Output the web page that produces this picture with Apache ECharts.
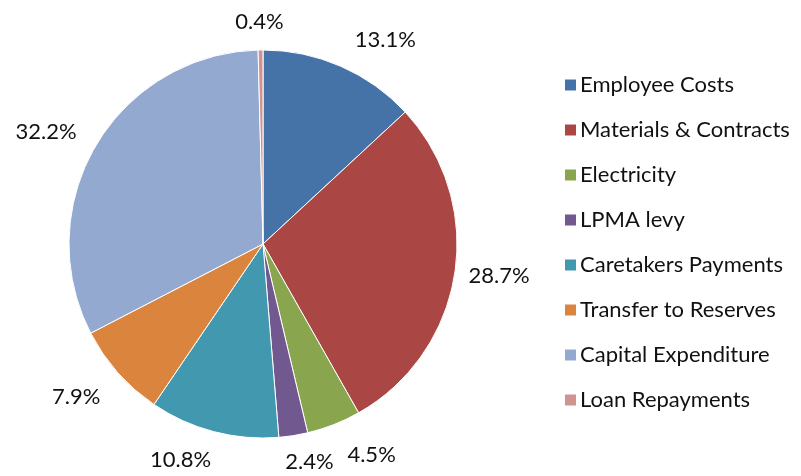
<!DOCTYPE html>
<html style="height: 100%">
<head>
<meta charset="utf-8">
<script src="https://cdn.jsdelivr.net/npm/echarts@6/dist/echarts.min.js"></script>
</head>
<body style="height: 100%; margin: 0; background: #fff">
<div id="container" style="width: 801px; height: 476px"></div>
<script type="text/javascript">
var categories = ['Employee Costs', 'Materials & Contracts', 'Electricity', 'LPMA levy',
                  'Caretakers Payments', 'Transfer to Reserves', 'Capital Expenditure', 'Loan Repayments'];
var shares = [13.1, 28.7, 4.5, 2.4, 10.8, 7.9, 32.2, 0.4];
var colors = ['#4572A7', '#AA4643', '#89A54E', '#71588F', '#4198AF', '#DB843D', '#93A9CF', '#D19392'];

var cx = 263, cy = 244, R = 194;
var labelDist = 212;
// small nudges so the labels sit where Excel put them
var labelNudge = [[7, 1], [-4, -6], [7, 3], [2, -2], [-5, 0], [-4, 1], [-4, 7], [0, 1]];

// mid angle of each slice, clockwise from 12 o'clock
var total = shares.reduce(function (a, b) { return a + b; }, 0);
var midAngles = [];
var acc = 0;
shares.forEach(function (v) {
    midAngles.push((acc + v / 2) / total * Math.PI * 2);
    acc += v;
});

function clamp1(v) { return Math.max(-1, Math.min(1, v)); }

var myChart = echarts.init(document.getElementById('container'));
var option = {
    animation: false,
    color: colors,
    textStyle: { fontFamily: 'Lato' },
    legend: {
        orient: 'vertical',
        left: 558,
        top: 69,
        icon: 'rect',
        itemWidth: 13,
        itemHeight: 13,
        itemGap: 23,
        textStyle: { fontSize: 22, color: '#111', fontFamily: 'Lato', padding: [0, 0, 0, -2] },
        data: categories
    },
    series: [{
        type: 'pie',
        center: [cx, cy],
        radius: R,
        startAngle: 90,
        clockwise: true,
        avoidLabelOverlap: false,
        itemStyle: { borderColor: '#fff', borderWidth: 1 },
        label: {
            position: 'outside',
            fontSize: 22,
            color: '#111',
            fontFamily: 'Lato',
            formatter: function (p) { return p.value.toFixed(1) + '%'; }
        },
        labelLine: { show: false, length: 14, length2: 0 },
        labelLayout: function (params) {
            var i = params.dataIndex;
            var a = midAngles[i];
            var ux = Math.sin(a), uy = -Math.cos(a);
            var w = params.labelRect.width, h = params.labelRect.height;
            return {
                x: cx + labelDist * ux + w / 2 * clamp1(3 * ux) + labelNudge[i][0],
                y: cy + labelDist * uy + h / 2 * clamp1(3 * uy) + labelNudge[i][1],
                align: 'center',
                verticalAlign: 'middle'
            };
        },
        emphasis: { disabled: true },
        data: categories.map(function (c, i) {
            return { name: c, value: shares[i] };
        })
    }]
};
myChart.setOption(option);
</script>
</body>
</html>
